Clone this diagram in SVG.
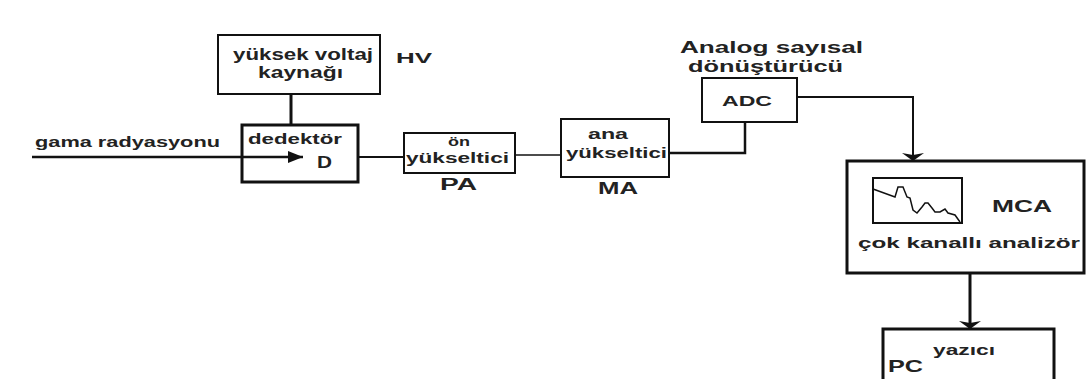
<svg xmlns="http://www.w3.org/2000/svg" width="1086" height="379" viewBox="0 0 1086 379">
<style>
text{font-family:"Liberation Sans",Arial,sans-serif;font-weight:bold;fill:#222}
.box{fill:#fff;stroke:#111;stroke-width:2}
.thick{stroke-width:3}
.ln{fill:none;stroke:#111;stroke-width:2}
</style>
<defs>
<marker id="ah" markerUnits="userSpaceOnUse" markerWidth="16" markerHeight="12" refX="15" refY="6" orient="auto">
<path d="M0,0 L15,6 L0,12 Z" fill="#111"/>
</marker>
<marker id="ahd" markerUnits="userSpaceOnUse" markerWidth="10" markerHeight="22" refX="8" refY="11" orient="auto">
<path d="M0,0 L8,11 L0,22 L2,11 Z" fill="#111"/>
</marker>
</defs>
<rect width="1086" height="379" fill="#fff"/>
<g id="connectors">
<line class="ln" x1="291" y1="94" x2="291" y2="125" style="stroke-width:3"/>
<line class="ln" x1="32" y1="157" x2="303" y2="157" marker-end="url(#ah)" style="stroke-width:2.5"/>
<line class="ln" x1="358" y1="157" x2="404" y2="157"/>
<line class="ln" x1="515" y1="155" x2="561" y2="155" style="stroke-width:1.5"/>
<polyline class="ln" points="669,153 745,153 745,122" style="stroke-width:2.5"/>
<polyline class="ln" points="797,97 913,97 913,161" marker-end="url(#ahd)"/>
<line class="ln" x1="970" y1="273" x2="970" y2="329" marker-end="url(#ahd)" style="stroke-width:3"/>
</g>
<g id="hv">
<rect class="box" x="218" y="35" width="162" height="59"/>
<text x="233" y="60" font-size="16" textLength="140" lengthAdjust="spacingAndGlyphs">yüksek voltaj</text>
<text x="258" y="78" font-size="16" textLength="85" lengthAdjust="spacingAndGlyphs">kaynağı</text>
<text x="396" y="63" font-size="15" textLength="36" lengthAdjust="spacingAndGlyphs">HV</text>
</g>
<g id="gamma-label">
<text x="35" y="147" font-size="15" textLength="185" lengthAdjust="spacingAndGlyphs">gama radyasyonu</text>
</g>
<g id="detector">
<rect class="box thick" x="242" y="125" width="116" height="57" style="fill:none"/>
<text x="248" y="144" font-size="15" textLength="94" lengthAdjust="spacingAndGlyphs">dedektör</text>
<text x="317" y="168" font-size="17" textLength="15" lengthAdjust="spacingAndGlyphs">D</text>
</g>
<g id="pa">
<rect class="box" x="404" y="133" width="111" height="40"/>
<text x="448" y="146" font-size="13" textLength="22" lengthAdjust="spacingAndGlyphs">ön</text>
<text x="406" y="163" font-size="14" textLength="103" lengthAdjust="spacingAndGlyphs">yükseltici</text>
<text x="440" y="190" font-size="16" textLength="37" lengthAdjust="spacingAndGlyphs">PA</text>
</g>
<g id="ma">
<rect class="box" x="561" y="119" width="108" height="58"/>
<text x="588" y="139" font-size="14" textLength="40" lengthAdjust="spacingAndGlyphs">ana</text>
<text x="566" y="158" font-size="15" textLength="101" lengthAdjust="spacingAndGlyphs">yükseltici</text>
<text x="598" y="194" font-size="16" textLength="40" lengthAdjust="spacingAndGlyphs">MA</text>
</g>
<g id="adc">
<text x="680" y="53" font-size="17" textLength="183" lengthAdjust="spacingAndGlyphs">Analog sayısal</text>
<text x="688" y="72" font-size="17" textLength="155" lengthAdjust="spacingAndGlyphs">dönüştürücü</text>
<rect class="box" x="702" y="78" width="95" height="44"/>
<text x="722" y="106" font-size="15" textLength="50" lengthAdjust="spacingAndGlyphs">ADC</text>
</g>
<g id="mca">
<rect class="box thick" x="847" y="161" width="237" height="112"/>
<rect class="box" x="873" y="178" width="89" height="45"/>
<polyline fill="none" stroke="#111" stroke-width="1.5" points="873,189 895,197 898,187 903,187 907,197 910,198 913,210 917,213 922,207 925,203 928,203 932,208 935,212 940,212 945,209 948,213 955,215 960,222"/>
<text x="992" y="212" font-size="16" textLength="60" lengthAdjust="spacingAndGlyphs">MCA</text>
<text x="858" y="248" font-size="15" textLength="222" lengthAdjust="spacingAndGlyphs">çok kanallı analizör</text>
</g>
<g id="pc">
<rect class="box thick" x="883" y="329" width="171" height="60"/>
<text x="888" y="372" font-size="17" textLength="35" lengthAdjust="spacingAndGlyphs">PC</text>
<text x="933" y="355" font-size="14" textLength="62" lengthAdjust="spacingAndGlyphs">yazıcı</text>
</g>
</svg>
